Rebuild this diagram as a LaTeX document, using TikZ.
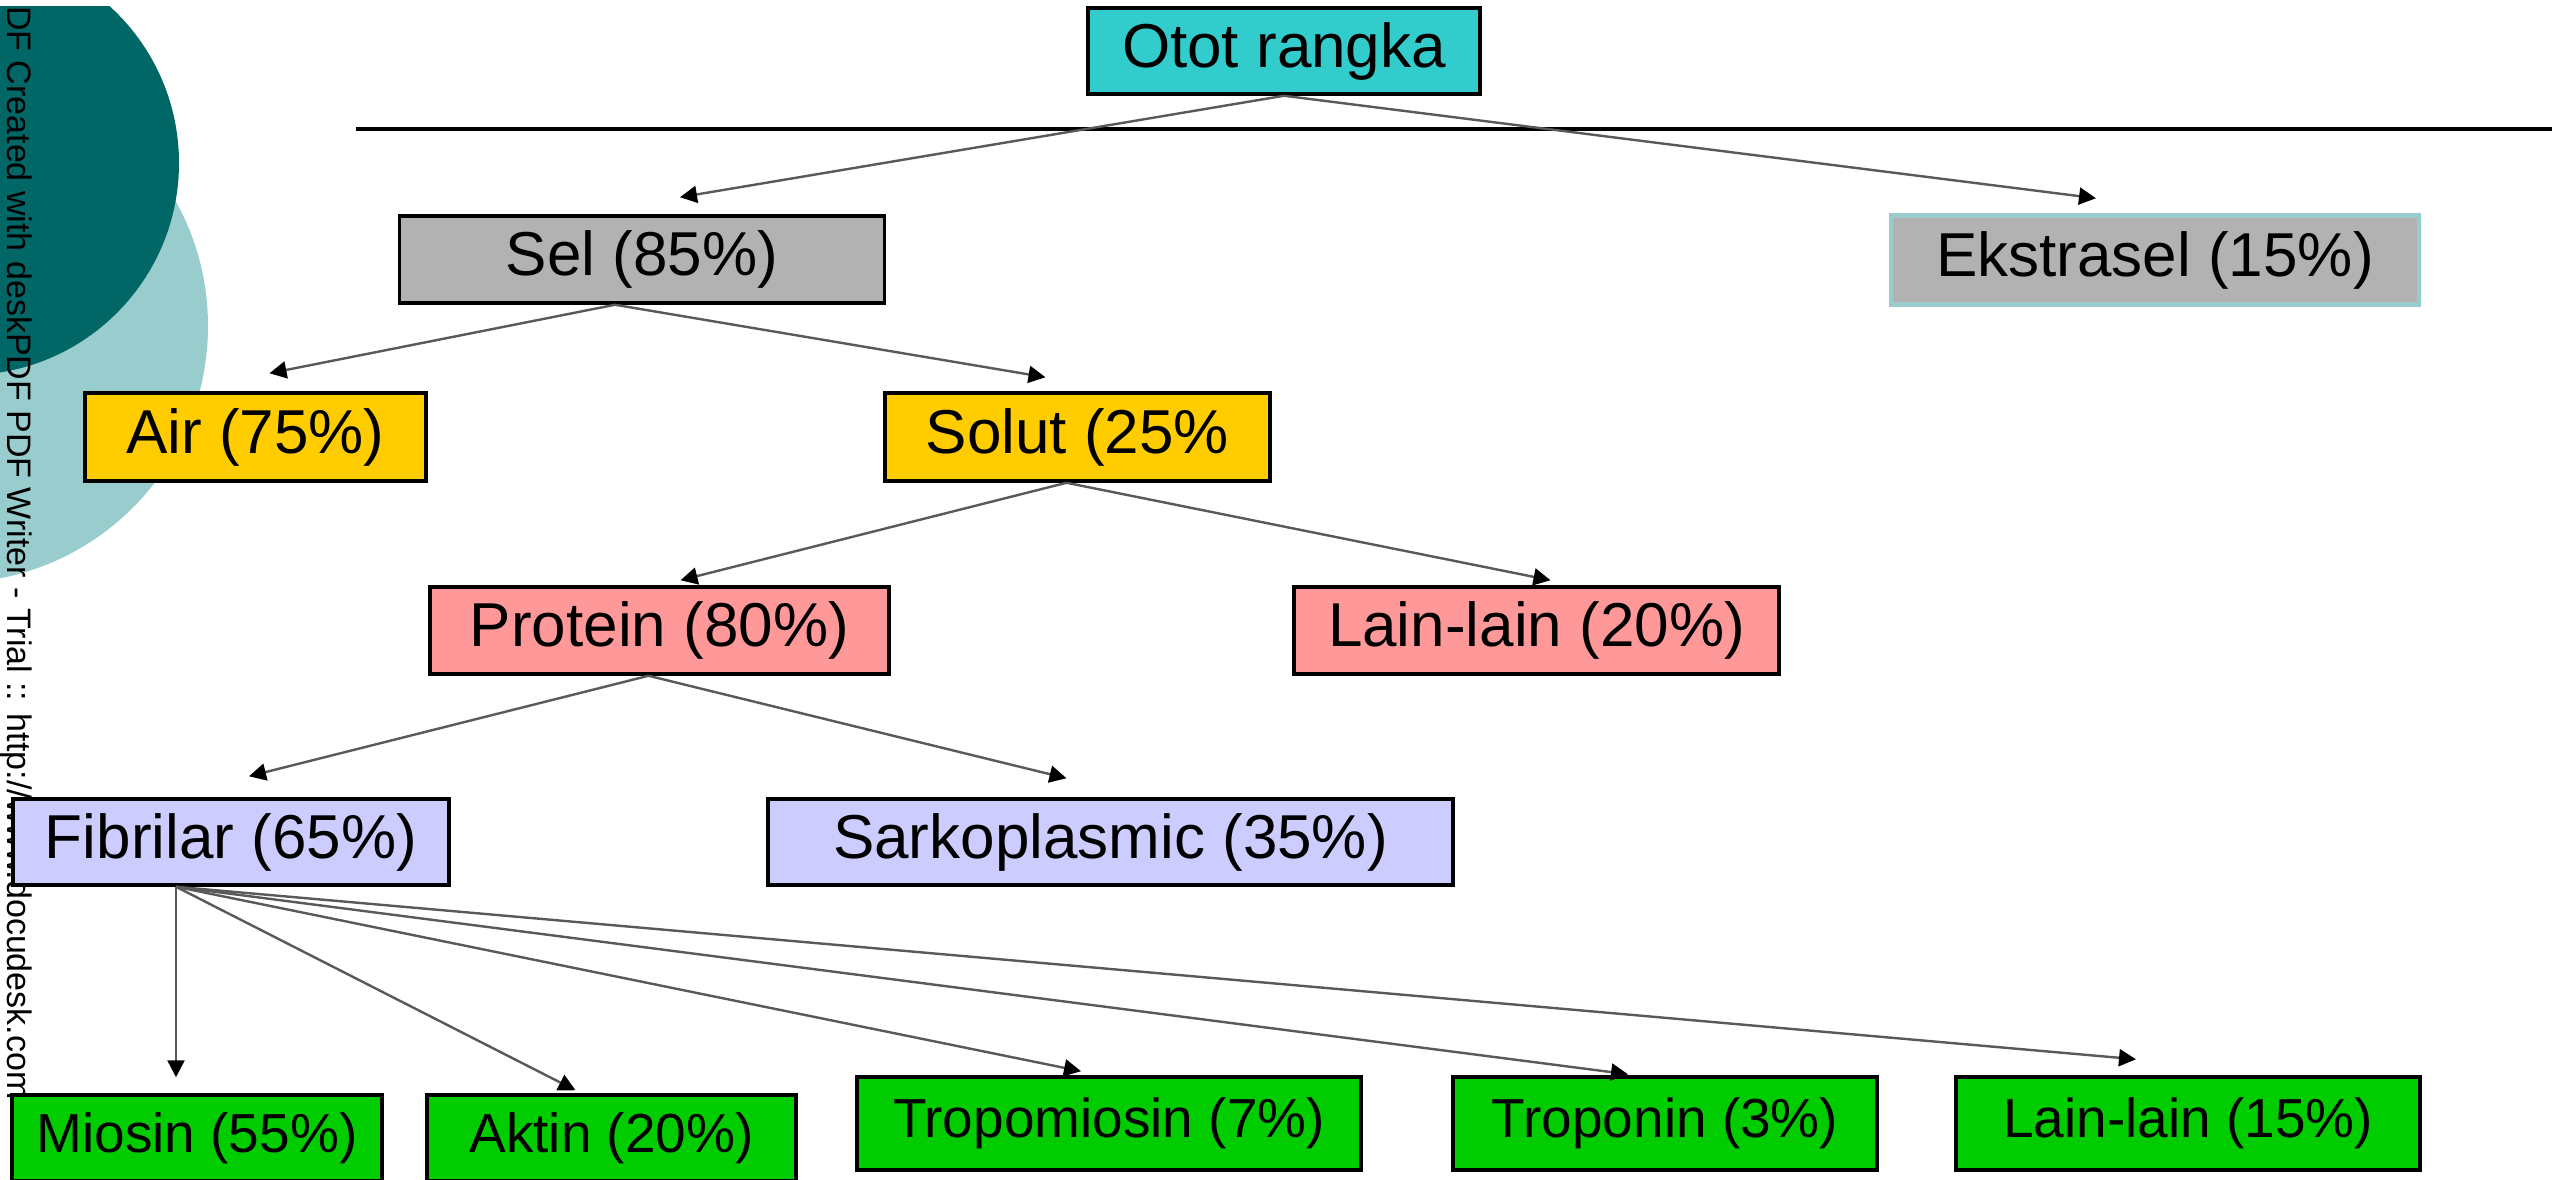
\documentclass[tikz,border=0pt]{standalone}
\usepackage{fontspec}
\setmainfont{Liberation Sans}
\usetikzlibrary{arrows.meta}
\definecolor{cotot}{HTML}{33CCCC}
\definecolor{cgray}{HTML}{B2B2B2}
\definecolor{cyel}{HTML}{FFCC00}
\definecolor{cpink}{HTML}{FF9999}
\definecolor{clav}{HTML}{CCCCFF}
\definecolor{cgreen}{HTML}{00CC00}
\definecolor{cdark}{HTML}{006666}
\definecolor{clight}{HTML}{99CCCC}
\begin{document}
\begin{tikzpicture}[x=1pt,y=-1pt,
  box/.style={draw=black, line width=3.5pt, inner sep=0pt, anchor=center,
              font=\fontsize{62}{70}\selectfont},
  lowbox/.style={box, font=\fontsize{55}{62}\selectfont, fill=cgreen},
  arr/.style={draw=black!65, line width=2.4pt,
              -{Triangle[length=17pt,width=17pt,color=black]}},
]
\useasboundingbox (0,0) rectangle (2552,1179);
\clip (0,0) rectangle (2552,1179);
\fill[white] (0,0) rectangle (2552,1179);

% decorative circles
\begin{scope}
  \clip (0,6) rectangle (600,1179);
  \fill[clight] (-49,326) circle[radius=257];
  \fill[cdark] (-33,163) circle[radius=212];
\end{scope}
\node[rotate=-90, anchor=base west, inner sep=0pt, text=black,
      font=\fontsize{34}{34}\selectfont] (wm) at (8,6)
  {DF Created with deskPDF PDF Writer - Trial :: http://www.docudesk.com};

% rule
\draw[line width=4pt] (356,129) -- (2552,129);

% nodes
\node[box, fill=cotot, minimum width=392pt, minimum height=86pt] (otot) at (1284,51) {Otot rangka};
\node[box, fill=cgray, minimum width=485pt, minimum height=87pt] (sel) at (642,259.5) {Sel (85\%)};
\node[box, fill=cgray, draw=clight, line width=4.5pt, minimum width=528pt, minimum height=89pt] (ekst) at (2155,260) {Ekstrasel (15\%)};
\node[box, fill=cyel, minimum width=341pt, minimum height=88pt] (air) at (255.5,437) {Air (75\%)};
\node[box, fill=cyel, minimum width=385pt, minimum height=88pt] (solut) at (1077.5,437) {Solut (25\%};
\node[box, fill=cpink, minimum width=459pt, minimum height=87pt] (protein) at (659.5,630.5) {Protein (80\%)};
\node[box, fill=cpink, minimum width=485pt, minimum height=87pt] (lain20) at (1536.5,630.5) {Lain-lain (20\%)};
\node[box, fill=clav, minimum width=436pt, minimum height=86pt] (fib) at (231,842) {Fibrilar (65\%)};
\node[box, fill=clav, minimum width=685pt, minimum height=86pt] (sarko) at (1110.5,842) {Sarkoplasmic (35\%)};
\node[lowbox, minimum width=370pt, minimum height=86pt] (miosin) at (197,1138) {Miosin (55\%)};
\node[lowbox, minimum width=369pt, minimum height=86pt] (aktin) at (611.5,1138) {Aktin (20\%)};
\node[lowbox, minimum width=504pt, minimum height=93pt] (tropo) at (1109,1123.5) {Tropomiosin (7\%)};
\node[lowbox, minimum width=424pt, minimum height=93pt] (troponin) at (1665,1123.5) {Troponin (3\%)};
\node[lowbox, minimum width=464pt, minimum height=93pt] (lain15) at (2188,1123.5) {Lain-lain (15\%)};

% connectors
\draw[arr] (otot.south) -- ([shift={(38,-17)}]sel.north);
\draw[arr] (otot.south) -- ([shift={(-59,-15)}]ekst.north);
\draw[arr] ([xshift=-27pt]sel.south) -- ([shift={(14,-18)}]air.north);
\draw[arr] ([xshift=-27pt]sel.south) -- ([shift={(-32,-14)}]solut.north);
\draw[arr] ([xshift=-11pt]solut.south) -- ([shift={(21,-5)}]protein.north);
\draw[arr] ([xshift=-11pt]solut.south) -- ([shift={(14,-5)}]lain20.north);
\draw[arr] ([xshift=-11pt]protein.south) -- ([shift={(18,-21)}]fib.north);
\draw[arr] ([xshift=-11pt]protein.south) -- ([shift={(-44,-19)}]sarko.north);
\draw[arr] ([xshift=-55pt]fib.south) -- ([shift={(-21,-16)}]miosin.north);
\draw[arr] ([xshift=-55pt]fib.south) -- ([shift={(-36,-3)}]aktin.north);
\draw[arr] ([xshift=-55pt]fib.south) -- ([shift={(-28,-4)}]tropo.north);
\draw[arr] ([xshift=-55pt]fib.south) -- ([shift={(-37,-1)}]troponin.north);
\draw[arr] ([xshift=-55pt]fib.south) -- ([shift={(-52,-16)}]lain15.north);
\end{tikzpicture}
\end{document}
